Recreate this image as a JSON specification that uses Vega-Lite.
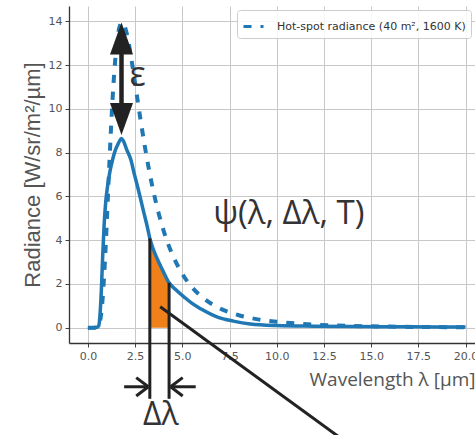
{
  "$schema": "https://vega.github.io/schema/vega-lite/v6.json",
  "width": 406,
  "height": 337,
  "autosize": {"type": "none"},
  "padding": {"left": 69, "top": 6, "right": 0, "bottom": 92},
  "background": "white",
  "config": {
    "view": {"stroke": null},
    "axis": {
      "grid": true, "gridColor": "#c8c8c8", "gridWidth": 1,
      "domainColor": "#333333", "domainWidth": 1.3,
      "tickColor": "#444444", "tickSize": 4, "tickWidth": 1,
      "labelColor": "#555555", "labelFont": "DejaVu Sans", "labelFontSize": 11, "labelPadding": 3,
      "titleColor": "#555555", "titleFontWeight": "normal"
    }
  },
  "datasets": {
    "dashed": [
      {"x": 0, "y": 0}, {"x": 0.3, "y": 0}, {"x": 0.5, "y": 0.02}, {"x": 0.6, "y": 0.15},
      {"x": 0.7, "y": 0.61}, {"x": 0.8, "y": 1.55}, {"x": 0.9, "y": 3.0}, {"x": 1.0, "y": 4.81},
      {"x": 1.1, "y": 6.77}, {"x": 1.2, "y": 8.66}, {"x": 1.3, "y": 10.34}, {"x": 1.4, "y": 11.7},
      {"x": 1.5, "y": 12.73}, {"x": 1.6, "y": 13.43}, {"x": 1.7, "y": 13.81}, {"x": 1.8, "y": 13.95},
      {"x": 1.9, "y": 13.88}, {"x": 2.0, "y": 13.64}, {"x": 2.2, "y": 12.82}, {"x": 2.4, "y": 11.74},
      {"x": 2.6, "y": 10.58}, {"x": 2.8, "y": 9.44}, {"x": 3.0, "y": 8.36}, {"x": 3.25, "y": 7.16},
      {"x": 3.5, "y": 6.11}, {"x": 3.75, "y": 5.22}, {"x": 4.0, "y": 4.46}, {"x": 4.5, "y": 3.29},
      {"x": 5.0, "y": 2.46}, {"x": 5.5, "y": 1.86}, {"x": 6.0, "y": 1.43}, {"x": 7.0, "y": 0.88},
      {"x": 8.0, "y": 0.57}, {"x": 9.0, "y": 0.38}, {"x": 10.0, "y": 0.27}, {"x": 12.0, "y": 0.14},
      {"x": 14.0, "y": 0.08}, {"x": 16.0, "y": 0.05}, {"x": 18.0, "y": 0.03}, {"x": 20.0, "y": 0.02}
    ],
    "solid": [
      {"x": 0, "y": 0}, {"x": 0.3, "y": 0}, {"x": 0.5, "y": 0.02}, {"x": 0.58, "y": 0.1},
      {"x": 0.65, "y": 0.7}, {"x": 0.72, "y": 1.85}, {"x": 0.78, "y": 3.2}, {"x": 0.86, "y": 4.7},
      {"x": 0.95, "y": 5.8}, {"x": 1.04, "y": 6.45}, {"x": 1.15, "y": 7.05}, {"x": 1.3, "y": 7.65},
      {"x": 1.45, "y": 8.1}, {"x": 1.6, "y": 8.4}, {"x": 1.7, "y": 8.56}, {"x": 1.78, "y": 8.65},
      {"x": 1.9, "y": 8.5}, {"x": 2.05, "y": 8.15}, {"x": 2.28, "y": 7.66}, {"x": 2.45, "y": 7.05},
      {"x": 2.63, "y": 6.45}, {"x": 2.8, "y": 5.85}, {"x": 2.98, "y": 5.2}, {"x": 3.15, "y": 4.6},
      {"x": 3.28, "y": 4.08}, {"x": 3.5, "y": 3.5}, {"x": 3.75, "y": 3.0}, {"x": 4.0, "y": 2.55},
      {"x": 4.3, "y": 2.05}, {"x": 4.7, "y": 1.7}, {"x": 5.1, "y": 1.4}, {"x": 5.5, "y": 1.12},
      {"x": 6.0, "y": 0.85}, {"x": 6.9, "y": 0.47}, {"x": 7.7, "y": 0.3}, {"x": 8.6, "y": 0.17},
      {"x": 10.0, "y": 0.1}, {"x": 12.0, "y": 0.07}, {"x": 14.0, "y": 0.05}, {"x": 17.0, "y": 0.04},
      {"x": 20.0, "y": 0.03}
    ],
    "fill": [
      {"x": 3.28, "y": 4.08}, {"x": 3.5, "y": 3.5}, {"x": 3.75, "y": 3.0}, {"x": 4.0, "y": 2.55}, {"x": 4.3, "y": 2.05}
    ],
    "segments": [
      {"x": 3.28, "y": 4.08, "x2": 3.28, "y2": -3.25},
      {"x": 4.3, "y": 2.05, "x2": 4.3, "y2": -3.25},
      {"x": 1.92, "y": -2.7, "x2": 3.2, "y2": -2.7},
      {"x": 3.2, "y": -2.7, "x2": 2.56, "y2": -2.28},
      {"x": 3.2, "y": -2.7, "x2": 2.56, "y2": -3.12},
      {"x": 4.38, "y": -2.7, "x2": 5.71, "y2": -2.7},
      {"x": 4.38, "y": -2.7, "x2": 5.02, "y2": -2.28},
      {"x": 4.38, "y": -2.7, "x2": 5.02, "y2": -3.12},
      {"x": 3.83, "y": 0.96, "x2": 13.5, "y2": -5.12}
    ],
    "shaft": [{"x": 1.78, "y": 12.55, "x2": 1.78, "y2": 10.25}],
    "headUp": [{"x": 1.78, "y": 13.95}],
    "headDown": [{"x": 1.78, "y": 8.8}],
    "epsLabel": [{"x": 2.63, "y": 11.5, "label": "ε"}],
    "psiLabel": [{"x": 10.64, "y": 5.2, "label": "ψ(λ, Δλ, T)"}],
    "dlLabel": [{"x": 3.86, "y": -4.0, "label": "Δλ"}]
  },
  "layer": [
    {
      "data": {"name": "dashed"},
      "mark": {"type": "line", "color": "#1f77b4", "strokeWidth": 4, "interpolate": "monotone", "clip": true},
      "encoding": {
        "x": {"field": "x", "type": "quantitative", "scale": {"domain": [-1, 20.5], "nice": false, "zero": false},
              "axis": {"values": [0, 2.5, 5, 7.5, 10, 12.5, 15, 17.5, 20], "format": ".1f", "title": "Wavelength λ [µm]",
                       "titleFont": "Open Sans", "titleFontSize": 19, "titleAnchor": "end", "titlePadding": 9}},
        "y": {"field": "y", "type": "quantitative", "scale": {"domain": [-0.7, 14.7], "nice": false, "zero": false},
              "axis": {"values": [0, 2, 4, 6, 8, 10, 12, 14], "title": "Radiance [W/sr/m²/µm]",
                       "titleFont": "Liberation Sans", "titleFontSize": 22, "titlePadding": 4}},
        "strokeDash": {"datum": "Hot-spot radiance (40 m², 1600 K)", "type": "nominal",
          "scale": {"range": [[8, 9]]},
          "legend": {"title": null, "orient": "top-right", "offset": 4, "symbolType": "stroke", "symbolSize": 400,
            "symbolStrokeWidth": 3, "symbolStrokeColor": "#1f77b4", "symbolDash": [5, 8],
            "labelFont": "DejaVu Sans", "labelFontSize": 11, "labelColor": "#333333", "labelOffset": 12, "labelLimit": 0,
            "fillColor": "rgba(255,255,255,0.85)", "strokeColor": "#cccccc", "cornerRadius": 3, "padding": 5}}
      }
    },
    {
      "data": {"name": "fill"},
      "mark": {"type": "area", "color": "#f0801a", "opacity": 1, "interpolate": "monotone"},
      "encoding": {
        "x": {"field": "x", "type": "quantitative", "scale": {"domain": [-1, 20.5], "nice": false, "zero": false}},
        "y": {"field": "y", "type": "quantitative", "scale": {"domain": [-0.7, 14.7], "nice": false, "zero": false}},
        "y2": {"datum": 0}
      }
    },
    {
      "data": {"name": "solid"},
      "mark": {"type": "line", "color": "#1f77b4", "strokeWidth": 3.5, "interpolate": "monotone", "clip": true},
      "encoding": {
        "x": {"field": "x", "type": "quantitative", "scale": {"domain": [-1, 20.5], "nice": false, "zero": false}},
        "y": {"field": "y", "type": "quantitative", "scale": {"domain": [-0.7, 14.7], "nice": false, "zero": false}}
      }
    },
    {
      "data": {"name": "segments"},
      "mark": {"type": "rule", "color": "#222222", "strokeWidth": 3, "clip": false},
      "encoding": {
        "x": {"field": "x", "type": "quantitative", "scale": {"domain": [-1, 20.5], "nice": false, "zero": false}},
        "y": {"field": "y", "type": "quantitative", "scale": {"domain": [-0.7, 14.7], "nice": false, "zero": false}},
        "x2": {"field": "x2"},
        "y2": {"field": "y2"}
      }
    },
    {
      "data": {"name": "shaft"},
      "mark": {"type": "rule", "color": "#222222", "strokeWidth": 4.5, "clip": false},
      "encoding": {
        "x": {"field": "x", "type": "quantitative", "scale": {"domain": [-1, 20.5], "nice": false, "zero": false}},
        "y": {"field": "y", "type": "quantitative", "scale": {"domain": [-0.7, 14.7], "nice": false, "zero": false}},
        "x2": {"field": "x2"},
        "y2": {"field": "y2"}
      }
    },
    {
      "data": {"name": "headUp"},
      "mark": {"type": "point", "shape": "M0,0L0.72,2L-0.72,2Z", "size": 1024, "filled": true, "color": "#222222", "opacity": 1},
      "encoding": {
        "x": {"field": "x", "type": "quantitative", "scale": {"domain": [-1, 20.5], "nice": false, "zero": false}},
        "y": {"field": "y", "type": "quantitative", "scale": {"domain": [-0.7, 14.7], "nice": false, "zero": false}}
      }
    },
    {
      "data": {"name": "headDown"},
      "mark": {"type": "point", "shape": "M0,0L0.72,-2L-0.72,-2Z", "size": 1024, "filled": true, "color": "#222222", "opacity": 1},
      "encoding": {
        "x": {"field": "x", "type": "quantitative", "scale": {"domain": [-1, 20.5], "nice": false, "zero": false}},
        "y": {"field": "y", "type": "quantitative", "scale": {"domain": [-0.7, 14.7], "nice": false, "zero": false}}
      }
    },
    {
      "data": {"name": "epsLabel"},
      "mark": {"type": "text", "font": "Open Sans", "fontSize": 34, "color": "#333333", "align": "center", "baseline": "middle", "clip": false},
      "encoding": {
        "x": {"field": "x", "type": "quantitative", "scale": {"domain": [-1, 20.5], "nice": false, "zero": false}},
        "y": {"field": "y", "type": "quantitative", "scale": {"domain": [-0.7, 14.7], "nice": false, "zero": false}},
        "text": {"field": "label"}
      }
    },
    {
      "data": {"name": "psiLabel"},
      "mark": {"type": "text", "font": "Open Sans", "fontSize": 33, "color": "#333333", "align": "center", "baseline": "middle", "clip": false},
      "encoding": {
        "x": {"field": "x", "type": "quantitative", "scale": {"domain": [-1, 20.5], "nice": false, "zero": false}},
        "y": {"field": "y", "type": "quantitative", "scale": {"domain": [-0.7, 14.7], "nice": false, "zero": false}},
        "text": {"field": "label"}
      }
    },
    {
      "data": {"name": "dlLabel"},
      "mark": {"type": "text", "font": "Open Sans", "fontSize": 32, "color": "#333333", "align": "center", "baseline": "middle", "clip": false},
      "encoding": {
        "x": {"field": "x", "type": "quantitative", "scale": {"domain": [-1, 20.5], "nice": false, "zero": false}},
        "y": {"field": "y", "type": "quantitative", "scale": {"domain": [-0.7, 14.7], "nice": false, "zero": false}},
        "text": {"field": "label"}
      }
    },
    {
      "mark": {"type": "rule", "color": "#333333", "strokeWidth": 1.3},
      "encoding": {
        "y": {"datum": 14.7, "type": "quantitative", "scale": {"domain": [-0.7, 14.7], "nice": false, "zero": false}}
      }
    }
  ]
}
